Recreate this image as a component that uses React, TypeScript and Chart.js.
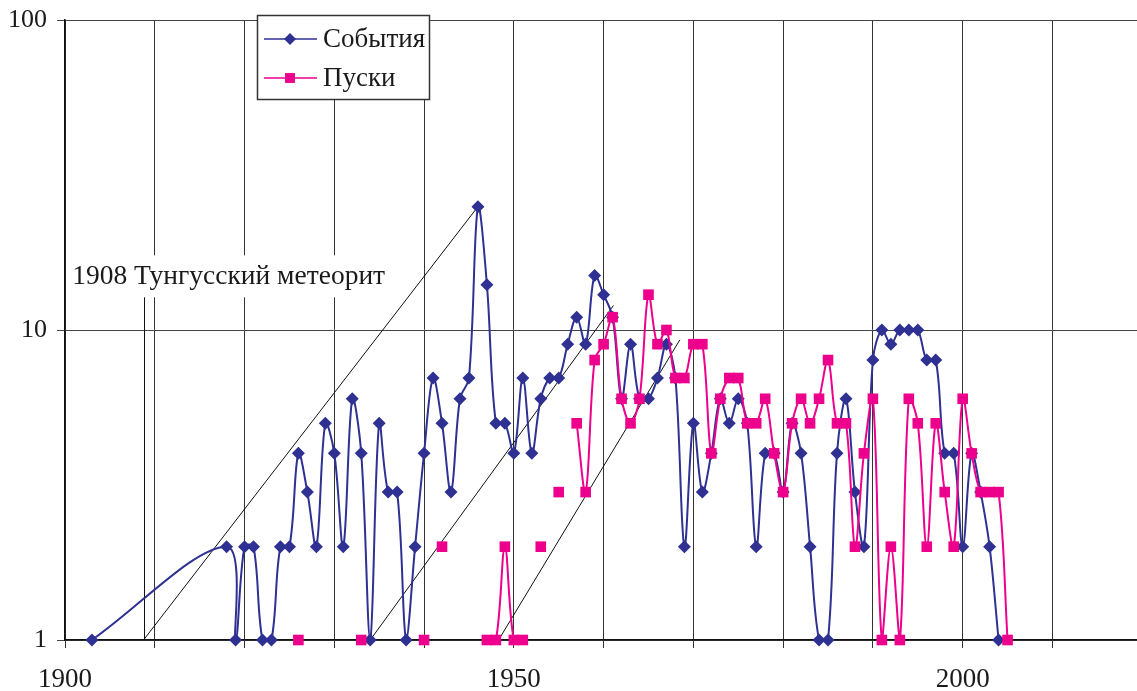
import { useEffect, useRef } from 'react';
import { Chart, registerables } from 'chart.js';

Chart.register(...registerables);

// ---------- data ----------
const eventYears = [
  1903, 1918, 1919, 1920, 1921, 1922, 1923, 1924, 1925, 1926, 1927, 1928, 1929,
  1930, 1931, 1932, 1933, 1934, 1935, 1936, 1937, 1938, 1939, 1940, 1941, 1942,
  1943, 1944, 1945, 1946, 1947, 1948, 1949, 1950, 1951, 1952, 1953, 1954, 1955,
  1956, 1957, 1958, 1959, 1960, 1961, 1962, 1963, 1964, 1965, 1966, 1967, 1968,
  1969, 1970, 1971, 1972, 1973, 1974, 1975, 1976, 1977, 1978, 1979, 1980, 1981,
  1982, 1983, 1984, 1985, 1986, 1987, 1988, 1989, 1990, 1991, 1992, 1993, 1994,
  1995, 1996, 1997, 1998, 1999, 2000, 2001, 2002, 2003, 2004,
];
const eventCounts = [
  1, 2, 1, 2, 2, 1, 1, 2, 2, 4, 3, 2, 5,
  4, 2, 6, 4, 1, 5, 3, 3, 1, 2, 4, 7, 5,
  3, 6, 7, 25, 14, 5, 5, 4, 7, 4, 6, 7, 7,
  9, 11, 9, 15, 13, 11, 6, 9, 6, 6, 7, 9, 7,
  2, 5, 3, 4, 6, 5, 6, 5, 2, 4, 4, 3, 5,
  4, 2, 1, 1, 4, 6, 3, 2, 8, 10, 9, 10, 10,
  10, 8, 8, 4, 4, 2, 4, 3, 2, 1,
];

const launchFirstYear = 1926;
const launchCounts: (number | null)[] = [
  1, null, null, null, null, null, null, // 1926-1932
  1, null, null, null, null, null, null, // 1933-1939
  1, null, 2, null, null, null, null, // 1940-1946
  1, 1, 2, 1, 1, null, 2, null, 3, null, // 1947-1956
  5, 3, 8, 9, 11, 6, 5, 6, 13, 9, // 1957-1966
  10, 7, 7, 9, 9, 4, 6, 7, 7, 5, // 1967-1976
  5, 6, 4, 3, 5, 6, 5, 6, 8, 5, // 1977-1986
  5, 2, 4, 6, 1, 2, 1, 6, 5, 2, // 1987-1996
  5, 3, 2, 6, 4, 3, 3, 3, 1, // 1997-2005
];

const seriesNames = ['События', 'Пуски'];
const xTickYears = [1900, 1910, 1920, 1930, 1940, 1950, 1960, 1970, 1980, 1990, 2000, 2010];
const xLabelYears = [1900, 1950, 2000];
const yTickValues = [1, 10, 100];

// annotation (data coordinates)
const meteorText = '1908 Тунгусский метеорит';
const meteorYear = 1908.75;
const meteorLabelAt = { year: 1900.8, value: 14.9 };
const trendLines: [number, number][][] = [
  [[1908.75, 1], [1946, 25]],
  [[1934, 1], [1961.1, 12]],
  [[1948.3, 1], [1968.5, 9.3]],
];

// ---------- styles ----------
const BLUE = '#2e3192';
const PINK = '#ec008c';
const FONT = "'Liberation Serif', 'Times New Roman', serif";
const TEXT = '#1a1a1a';

const annotationPlugin = {
  id: 'annotations',
  beforeDatasetsDraw(chart: any) {
    const { ctx } = chart;
    const xs = chart.scales.x;
    const ys = chart.scales.y;
    ctx.save();
    ctx.font = `27.5px ${FONT}`;
    const tx = xs.getPixelForValue(meteorLabelAt.year);
    const ty = ys.getPixelForValue(meteorLabelAt.value);
    const w = ctx.measureText(meteorText).width;
    const boxTop = ty - 21;
    const boxBottom = ty + 21;
    ctx.fillStyle = '#ffffff';
    ctx.fillRect(tx - 4, boxTop, w + 10, boxBottom - boxTop);
    ctx.fillStyle = TEXT;
    ctx.textBaseline = 'middle';
    ctx.textAlign = 'left';
    ctx.fillText(meteorText, tx, ty);

    ctx.strokeStyle = '#111';
    ctx.lineWidth = 1;
    const mx = Math.round(xs.getPixelForValue(meteorYear)) + 0.5;
    ctx.beginPath();
    ctx.moveTo(mx, ys.getPixelForValue(1));
    ctx.lineTo(mx, boxBottom);
    ctx.stroke();

    trendLines.forEach((ln) => {
      ctx.beginPath();
      ctx.moveTo(xs.getPixelForValue(ln[0][0]), ys.getPixelForValue(ln[0][1]));
      ctx.lineTo(xs.getPixelForValue(ln[1][0]), ys.getPixelForValue(ln[1][1]));
      ctx.stroke();
    });
    ctx.restore();
  },
  afterDraw(chart: any) {
    const { ctx } = chart;
    ctx.save();
    // legend box
    const bx = 257.5, by = 15.5, bw = 172, bh = 84;
    ctx.fillStyle = '#ffffff';
    ctx.fillRect(bx, by, bw, bh);
    ctx.strokeStyle = '#333';
    ctx.lineWidth = 1.5;
    ctx.strokeRect(bx, by, bw, bh);
    const rows = [
      { y: 39, color: BLUE, style: 'rectRot', r: 6, name: seriesNames[0] },
      { y: 78, color: PINK, style: 'rect', r: 7, name: seriesNames[1] },
    ];
    rows.forEach((row) => {
      ctx.strokeStyle = row.color;
      ctx.lineWidth = 1.5;
      ctx.beginPath();
      ctx.moveTo(264, row.y);
      ctx.lineTo(317, row.y);
      ctx.stroke();
      ctx.fillStyle = row.color;
      ctx.beginPath();
      if (row.style === 'rectRot') {
        ctx.moveTo(290, row.y - row.r);
        ctx.lineTo(290 + row.r, row.y);
        ctx.lineTo(290, row.y + row.r);
        ctx.lineTo(290 - row.r, row.y);
        ctx.closePath();
      } else {
        const h = row.r * Math.SQRT1_2;
        ctx.rect(290 - h, row.y - h, 2 * h, 2 * h);
      }
      ctx.fill();
      ctx.fillStyle = TEXT;
      ctx.font = `27px ${FONT}`;
      ctx.textBaseline = 'middle';
      ctx.textAlign = 'left';
      ctx.fillText(row.name, 323, row.y + 1);
    });
    ctx.restore();
  },
};

const zeroPadding = (s: any) => {
  s.paddingTop = 0;
  s.paddingBottom = 0;
  s.paddingLeft = 0;
  s.paddingRight = 0;
};

export default function App() {
  const ref = useRef<HTMLCanvasElement>(null);
  useEffect(() => {
    document.body.style.margin = '0';
    const canvas = ref.current;
    if (!canvas) return;
    const eventData = eventYears.map((x, i) => ({ x, y: eventCounts[i] }));
    const launchData = launchCounts.map((v, i) => ({ x: launchFirstYear + i, y: v }));
    const chart = new Chart(canvas, {
      type: 'line',
      data: {
        datasets: [
          {
            label: seriesNames[0],
            data: eventData as any,
            borderColor: BLUE,
            backgroundColor: BLUE,
            pointBackgroundColor: BLUE,
            pointBorderWidth: 0,
            pointStyle: 'rectRot',
            pointRadius: 6.5,
            borderWidth: 2,
            tension: 0.35,
            clip: false,
            order: 1,
          },
          {
            label: seriesNames[1],
            data: launchData as any,
            borderColor: PINK,
            backgroundColor: PINK,
            pointBackgroundColor: PINK,
            pointBorderWidth: 0,
            pointStyle: 'rect',
            pointRadius: 7.5,
            borderWidth: 2,
            tension: 0.35,
            spanGaps: false,
            clip: false,
            order: 0,
          },
        ],
      },
      options: {
        responsive: false,
        animation: false,
        devicePixelRatio: 1,
        layout: { autoPadding: false, padding: { top: 20, left: 0, right: 0, bottom: 0 } },
        plugins: {
          legend: { display: false },
          tooltip: { enabled: false },
        },
        scales: {
          x: {
            type: 'linear',
            min: 1900,
            max: 2019.42,
            afterBuildTicks: (s: any) => {
              s.ticks = xTickYears.map((v) => ({ value: v }));
            },
            afterFit: (s: any) => {
              s.height = 51;
              zeroPadding(s);
            },
            grid: { color: '#333', lineWidth: 1, tickLength: 8, drawTicks: true },
            border: { color: '#111', width: 1.5 },
            ticks: {
              autoSkip: false,
              maxRotation: 0,
              padding: 16,
              color: TEXT,
              font: { family: FONT, size: 27 },
              callback: (v: any) => (xLabelYears.includes(Number(v)) ? String(v) : ''),
            },
          },
          y: {
            type: 'logarithmic',
            min: 1,
            max: 100,
            afterBuildTicks: (s: any) => {
              s.ticks = yTickValues.map((v) => ({ value: v }));
            },
            afterFit: (s: any) => {
              s.width = 65;
              zeroPadding(s);
            },
            grid: { color: '#444', lineWidth: 1, tickLength: 8, drawTicks: true },
            border: { color: '#111', width: 1.5 },
            ticks: {
              padding: 10,
              color: TEXT,
              font: { family: FONT, size: 26 },
              callback: (v: any) => String(v),
            },
          },
        },
      },
      plugins: [annotationPlugin],
    });
    return () => chart.destroy();
  }, []);
  return <canvas ref={ref} width={1137} height={691} style={{ display: 'block' }} />;
}
